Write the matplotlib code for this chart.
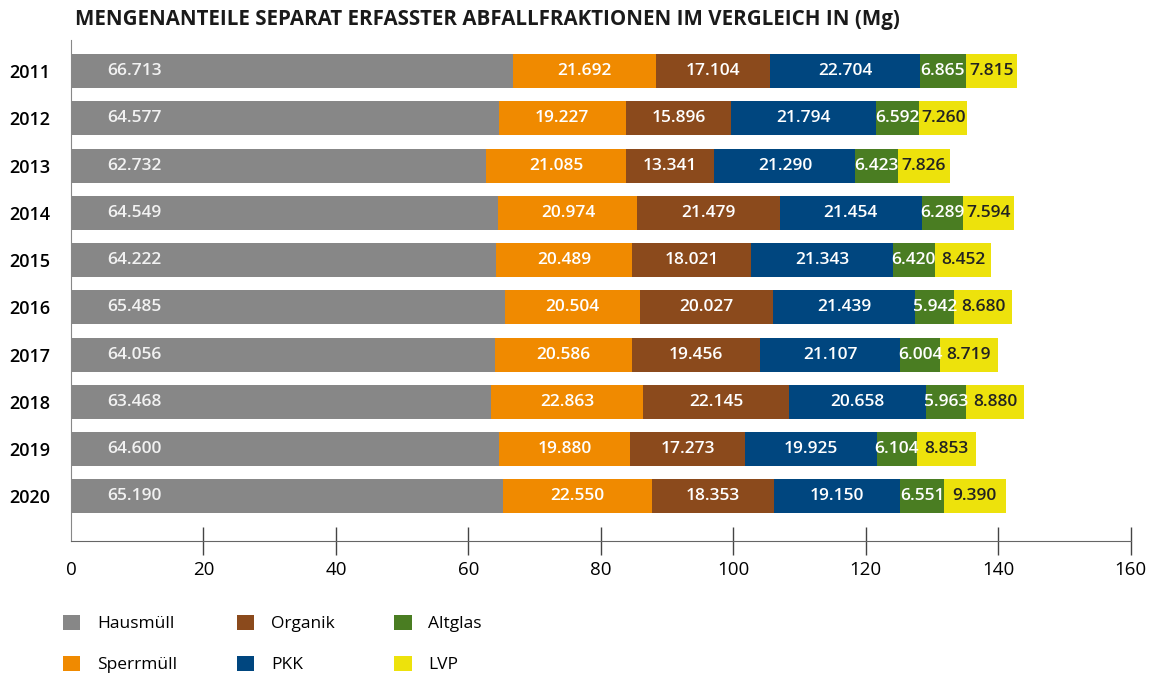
import numpy as np
import matplotlib.pyplot as plt
from matplotlib.patches import Patch

plt.rcParams['font.family'] = ['Open Sans', 'DejaVu Sans']

years = ["2011", "2012", "2013", "2014", "2015", "2016", "2017", "2018", "2019", "2020"]
categories = ["Hausmüll", "Sperrmüll", "Organik", "PKK", "Altglas", "LVP"]
hausmuell = [66.713, 64.577, 62.732, 64.549, 64.222, 65.485, 64.056, 63.468, 64.600, 65.190]
sperrmuell = [21.692, 19.227, 21.085, 20.974, 20.489, 20.504, 20.586, 22.863, 19.880, 22.550]
organik = [17.104, 15.896, 13.341, 21.479, 18.021, 20.027, 19.456, 22.145, 17.273, 18.353]
pkk = [22.704, 21.794, 21.290, 21.454, 21.343, 21.439, 21.107, 20.658, 19.925, 19.150]
altglas = [6.865, 6.592, 6.423, 6.289, 6.420, 5.942, 6.004, 5.963, 6.104, 6.551]
lvp = [7.815, 7.260, 7.826, 7.594, 8.452, 8.680, 8.719, 8.880, 8.853, 9.390]

series = [hausmuell, sperrmuell, organik, pkk, altglas, lvp]
colors = ["#878787", "#F08A00", "#8B4A1C", "#00467F", "#4A7D22", "#EDE20C"]
text_colors = ["#f2f2f2", "white", "white", "white", "white", "#222222"]


def fmt(v):
    return f"{v:.3f}"


fig = plt.figure(figsize=(11.56, 6.79), dpi=100)
ax = fig.add_axes([0.0614, 0.203, 0.9166, 0.738])

y = np.arange(len(years))
left = np.zeros(len(years))
for vals, col, tcol in zip(series, colors, text_colors):
    vals = np.array(vals)
    ax.barh(y, vals, left=left, height=0.72, color=col, edgecolor="none")
    for i, v in enumerate(vals):
        if col == colors[0]:
            ax.text(left[i] + 5.5, y[i], fmt(v), ha="left", va="center",
                    color=tcol, fontsize=12.5, fontweight="semibold")
        else:
            ax.text(left[i] + v / 2, y[i], fmt(v), ha="center", va="center",
                    color=tcol, fontsize=12.5, fontweight="semibold")
    left += vals

ax.set_xlim(0, 160)
ax.set_ylim(9.95, -0.66)
ax.set_yticks(y)
ax.set_yticklabels(years, fontsize=13, fontweight="semibold")
ax.tick_params(axis="y", length=0, pad=15)
ax.set_xticks(np.arange(0, 161, 20))
ax.tick_params(axis="x", direction="inout", length=20, width=1, color="#444444",
               labelsize=13.5, pad=4)
ax.xaxis.get_major_ticks()[0].tick1line.set_visible(False)

for s in ["top", "right"]:
    ax.spines[s].set_visible(False)
ax.spines["left"].set_color("#888888")
ax.spines["bottom"].set_color("#666666")

fig.text(0.065, 0.972, "MENGENANTEILE SEPARAT ERFASSTER ABFALLFRAKTIONEN IM VERGLEICH IN (Mg)",
         fontsize=14.8, fontweight="bold", color="#1a1a1a", va="center", ha="left")

handles = [Patch(facecolor=c, edgecolor="none") for c in colors]
fig.legend(handles, categories, loc="upper left", bbox_to_anchor=(0.041, 0.118),
           ncol=3, frameon=False, fontsize=12.5, handlelength=1.0, handleheight=1.0,
           handletextpad=0.95, columnspacing=3.45, labelspacing=1.35)

fig.savefig("out.png", dpi=100)
